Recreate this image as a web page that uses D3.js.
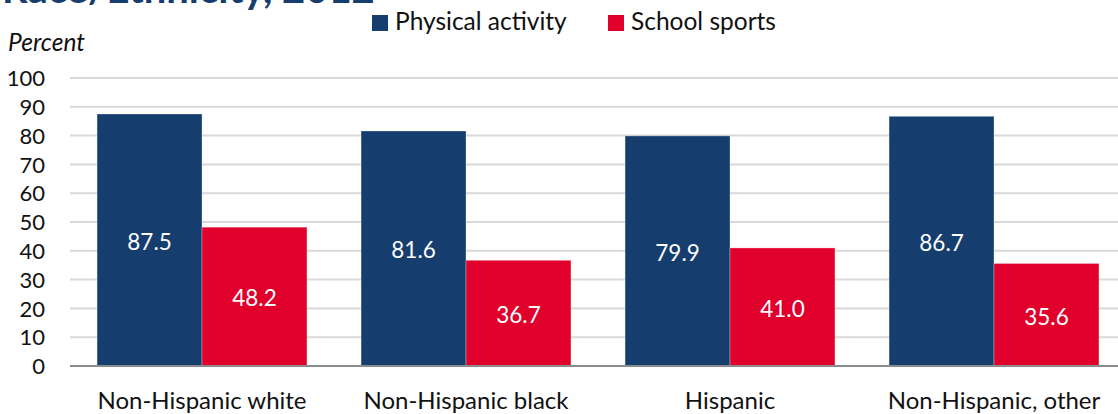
<!DOCTYPE html>
<html>
<head>
<meta charset="utf-8">
<script src="https://cdn.jsdelivr.net/npm/d3@7"></script>
<style>
  html, body { margin: 0; padding: 0; background: #fff; }
  svg { display: block; font-family: Lato, "Noto Sans", sans-serif; }
</style>
</head>
<body>
<svg id="chart" width="1118" height="414"></svg>
<script>
// Share of students by race/ethnicity, 2012
const categories = ["Non-Hispanic white", "Non-Hispanic black", "Hispanic", "Non-Hispanic, other"];
const seriesNames = ["Physical activity", "School sports"];
const physicalActivity = [87.5, 81.6, 79.9, 86.7];
const schoolSports = [48.2, 36.7, 41.0, 35.6];
const yTicks = [0, 10, 20, 30, 40, 50, 60, 70, 80, 90, 100];

const colors = ["#153d6e", "#e0002b"];
const values = [physicalActivity, schoolSports];

const svg = d3.select("#chart");
const W = 1118, H = 414;
const plot = { left: 70, right: 1126, top: 78, bottom: 366 };

const x0 = d3.scaleBand().domain(categories).range([plot.left, plot.right]).paddingInner(0.205).paddingOuter(0.1025);
const x1 = d3.scaleBand().domain(seriesNames).range([0, x0.bandwidth()]);
const y = d3.scaleLinear().domain([0, 100]).range([plot.bottom, plot.top]);

// Title (runs off the top edge)
svg.append("text")
  .attr("x", 2).attr("y", 3)
  .attr("fill", "#153d6e")
  .attr("font-weight", 700)
  .attr("font-size", 40)
  .text("Race/Ethnicity, 2012");

// Axis title
svg.append("text")
  .attr("x", 8).attr("y", 51)
  .attr("font-style", "italic")
  .attr("font-size", 24.5)
  .attr("fill", "#111")
  .text("Percent");

// Gridlines
svg.append("g")
  .selectAll("line")
  .data(yTicks.filter(d => d > 0))
  .join("line")
  .attr("x1", plot.left).attr("x2", W)
  .attr("y1", d => y(d)).attr("y2", d => y(d))
  .attr("stroke", "#d9d9d9")
  .attr("stroke-width", 2);

// Y axis labels
const yAxis = d3.axisLeft(y).tickValues(yTicks).tickSize(0).tickPadding(0);
const yg = svg.append("g").attr("transform", `translate(${plot.left - 25},0)`).call(yAxis);
yg.select(".domain").remove();
yg.selectAll("text")
  .attr("font-family", "Lato, 'Noto Sans', sans-serif")
  .attr("font-size", 22)
  .attr("fill", "#111")
  .attr("dy", "0.35em");

// Bars
const groups = svg.append("g")
  .selectAll("g")
  .data(categories)
  .join("g")
  .attr("transform", d => `translate(${x0(d)},0)`);

groups.selectAll("rect")
  .data((d, i) => seriesNames.map((s, j) => ({ s, v: values[j][i], j })))
  .join("rect")
  .attr("x", d => x1(d.s))
  .attr("width", x1.bandwidth())
  .attr("y", d => y(d.v))
  .attr("height", d => y(0) - y(d.v))
  .attr("fill", d => colors[d.j])
  .attr("stroke", "rgba(255,255,255,0.3)")
  .attr("stroke-width", 1);

groups.selectAll("text.val")
  .data((d, i) => seriesNames.map((s, j) => ({ s, v: values[j][i], j })))
  .join("text")
  .attr("class", "val")
  .attr("x", d => x1(d.s) + x1.bandwidth() / 2)
  .attr("y", d => (y(d.v) + y(0)) / 2 + 2)
  .attr("dy", "0.35em")
  .attr("text-anchor", "middle")
  .attr("fill", "#fff")
  .attr("font-size", 22.5)
  .text(d => d.v.toFixed(1));

// Baseline
svg.append("line")
  .attr("x1", plot.left).attr("x2", W)
  .attr("y1", y(0)).attr("y2", y(0))
  .attr("stroke", "#8c8c8c")
  .attr("stroke-width", 2);

// Category labels
const xAxis = d3.axisBottom(x0).tickSize(0).tickPadding(0);
const xg = svg.append("g").attr("transform", `translate(0,${plot.bottom + 26})`).call(xAxis);
xg.select(".domain").remove();
xg.selectAll("text")
  .attr("font-family", "Lato, 'Noto Sans', sans-serif")
  .attr("font-size", 24)
  .attr("fill", "#111")
  .attr("dy", "0.71em");

// Legend
const legendPos = [372, 608];
const legend = svg.append("g")
  .selectAll("g")
  .data(seriesNames)
  .join("g")
  .attr("transform", (d, i) => `translate(${legendPos[i]},15)`);
legend.append("rect")
  .attr("width", 16).attr("height", 16)
  .attr("fill", (d, i) => colors[i]);
legend.append("text")
  .attr("x", 23).attr("y", 15)
  .attr("font-size", 24.5)
  .attr("fill", "#111")
  .text(d => d);
</script>
</body>
</html>
